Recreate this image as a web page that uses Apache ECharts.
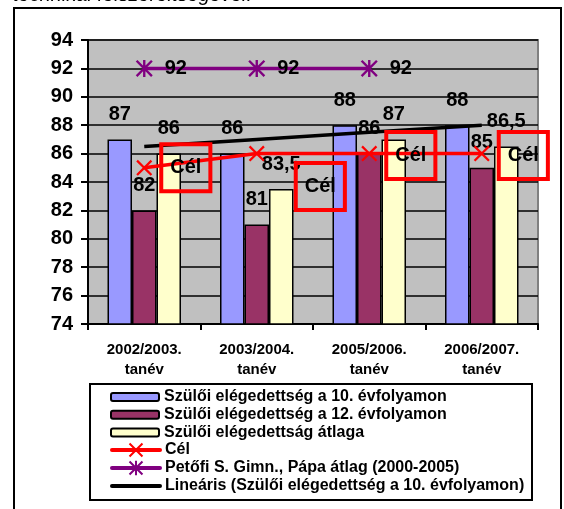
<!DOCTYPE html>
<html>
<head>
<meta charset="utf-8">
<script src="https://cdn.jsdelivr.net/npm/echarts@6/dist/echarts.min.js"></script>
<style>
html,body{margin:0;padding:0;background:#fff;}
#chart{width:564px;height:509px;}
</style>
</head>
<body>
<div id="chart"></div>
<script>
var categories = ['2002/2003.\ntanév', '2003/2004.\ntanév', '2005/2006.\ntanév', '2006/2007.\ntanév'];
var grade10 = [87, 86, 88, 88];
var grade12 = [82, 81, 86, 85];
var average = [86, 83.5, 87, 86.5];
var target = [85, 86, 86, 86];
var petofi = [92, 92, 92, '-'];
var trend10 = [86.5, 87, 87.5, 88];
var yTicks = {min: 74, max: 94, interval: 2};

var names = [
  'Szülői elégedettség a 10. évfolyamon',
  'Szülői elégedettség a 12. évfolyamon',
  'Szülői elégedettság átlaga',
  'Cél',
  'Petőfi S. Gimn., Pápa átlag (2000-2005)',
  'Lineáris (Szülői elégedettség a 10. évfolyamon)'
];

var FONT = "'Liberation Sans', Arial, sans-serif";
var X_PATH = 'path://M0,1 L1,0 L5,4 L9,0 L10,1 L6,5 L10,9 L9,10 L5,6 L1,10 L0,9 L4,5 Z';
var STAR_PATH = 'path://M0,1 L1,0 L5,4 L9,0 L10,1 L6,5 L10,9 L9,10 L5,6 L1,10 L0,9 L4,5 Z M4.3,0 L5.7,0 L5.7,10 L4.3,10 Z';

function fmt(p) { return String(p.value).replace('.', ','); }

var barLabel = {
  show: true, position: 'top', distance: 15,
  fontFamily: FONT, fontWeight: 'bold', fontSize: 20, color: '#000',
  formatter: fmt
};

var celLabelBase = {
  show: true, position: 'right', distance: 9,
  formatter: 'Cél',
  fontFamily: FONT, fontWeight: 'bold', fontSize: 20, color: '#000',
  lineHeight: 20,
  borderColor: '#FF0000', borderWidth: 4,
  padding: [13, 9, 14, 9]
};
var celOffsets = [[0, 0], [22, 33], [0, 2], [0, 2]];
var targetData = target.map(function (v, i) {
  return {value: v, label: {offset: celOffsets[i]}};
});

var legendText = {fontFamily: FONT, fontWeight: 'bold', fontSize: 16, lineHeight: 16, color: '#000'};

var chart = echarts.init(document.getElementById('chart'), null, {renderer: 'canvas'});
chart.setOption({
  animation: false,
  backgroundColor: '#fff',
  textStyle: {fontFamily: FONT},
  grid: {
    left: 88, right: 26, top: 40, bottom: 185,
    show: true, backgroundColor: '#C0C0C0', borderColor: '#808080', borderWidth: 2
  },
  xAxis: {
    type: 'category', data: categories, boundaryGap: true,
    axisLine: {lineStyle: {color: '#000', width: 2}},
    axisTick: {show: true, interval: 0, length: 6, lineStyle: {color: '#000', width: 2}},
    axisLabel: {interval: 0, margin: 16, fontFamily: FONT, fontWeight: 'bold', fontSize: 15, lineHeight: 20, color: '#000'},
    splitLine: {show: false}
  },
  yAxis: {
    type: 'value', min: yTicks.min, max: yTicks.max, interval: yTicks.interval,
    axisLine: {show: true, lineStyle: {color: '#000', width: 2}},
    axisTick: {show: true, length: 7, lineStyle: {color: '#000', width: 2}},
    axisLabel: {margin: 15, fontFamily: FONT, fontWeight: 'bold', fontSize: 20, color: '#000'},
    splitLine: {show: true, lineStyle: {color: '#000', width: 1.5}}
  },
  legend: [{
    orient: 'vertical', left: 105, top: 384,
    itemWidth: 48, itemHeight: 8, itemGap: 1.8,
    textStyle: legendText,
    data: [names[0], names[1], names[2]]
  }, {
    orient: 'vertical', left: 105, top: 437,
    itemWidth: 48, itemHeight: 18, itemGap: 2,
    textStyle: legendText,
    lineStyle: {width: 4, cap: 'round'},
    data: [names[3], names[4], {name: names[5], itemStyle: {opacity: 0}}]
  }],
  graphic: [{
    type: 'text', left: 13, top: -15,
    style: {text: 'technikai felszereltségével.', font: 'italic 20px ' + FONT, fill: '#000'}
  }, {
    type: 'rect', shape: {x: 14, y: 8, width: 547, height: 530},
    style: {fill: 'none', stroke: '#000', lineWidth: 2}, z: -1
  }, {
    type: 'rect', shape: {x: 90, y: 384, width: 442, height: 116},
    style: {fill: 'none', stroke: '#000', lineWidth: 2}
  }],
  series: [{
    name: names[0], type: 'bar', data: grade10, barWidth: 24.5, barGap: '0%',
    itemStyle: {color: '#9999FF', borderColor: '#000', borderWidth: 1.5},
    label: barLabel
  }, {
    name: names[1], type: 'bar', data: grade12, barWidth: 24.5, barGap: '0%',
    itemStyle: {color: '#993366', borderColor: '#000', borderWidth: 1.5},
    label: barLabel
  }, {
    name: names[2], type: 'bar', data: average, barWidth: 24.5, barGap: '0%',
    itemStyle: {color: '#FFFFCC', borderColor: '#000', borderWidth: 1.5},
    label: barLabel
  }, {
    name: names[3], type: 'line', data: targetData,
    symbol: X_PATH, symbolSize: 16,
    lineStyle: {color: '#FF0000', width: 3.5},
    itemStyle: {color: '#FF0000'},
    label: celLabelBase, z: 4
  }, {
    name: names[4], type: 'line', data: petofi,
    symbol: STAR_PATH, symbolSize: 17,
    lineStyle: {color: '#800080', width: 3.5},
    itemStyle: {color: '#800080'},
    label: {show: true, position: 'right', distance: 12, fontFamily: FONT, fontWeight: 'bold', fontSize: 20, color: '#000'},
    z: 4
  }, {
    name: names[5], type: 'line', data: trend10,
    symbol: 'none',
    lineStyle: {color: '#000', width: 3.5},
    itemStyle: {color: '#000'},
    z: 3
  }]
});
</script>
</body>
</html>
